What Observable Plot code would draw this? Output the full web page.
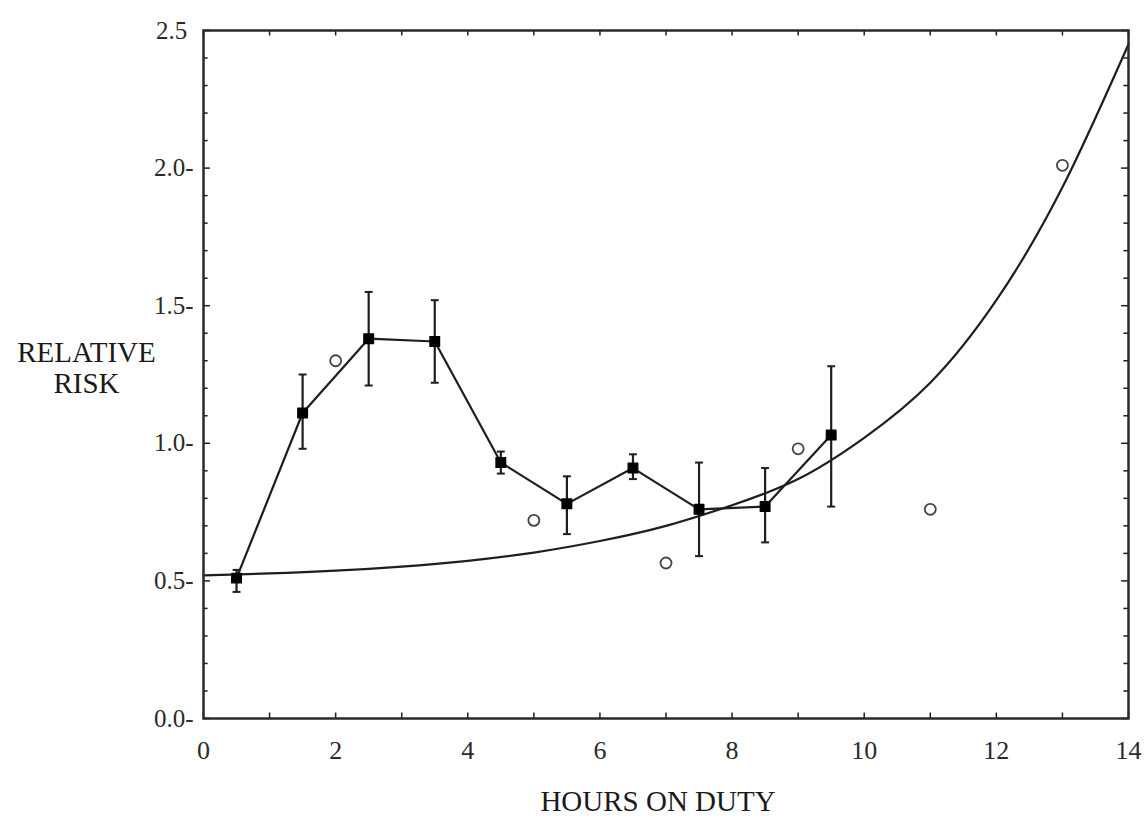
<!DOCTYPE html>
<html>
<head>
<meta charset="utf-8">
<script src="https://cdn.jsdelivr.net/npm/d3@7"></script>
<script src="https://cdn.jsdelivr.net/npm/@observablehq/plot@0.6"></script>
<style>
  html, body { margin: 0; padding: 0; background: #fff; }
  #chart { width: 1144px; height: 830px; }
  #chart svg text { font-family: 'Liberation Serif', 'DejaVu Serif', serif; }
</style>
</head>
<body>
<div id="chart"></div>
<script>
// Observed relative risk by hour on duty (filled points, with error bars)
const hours = [0.5, 1.5, 2.5, 3.5, 4.5, 5.5, 6.5, 7.5, 8.5, 9.5];
const risk  = [0.51, 1.11, 1.38, 1.37, 0.93, 0.78, 0.91, 0.76, 0.77, 1.03];
const riskLo = [0.46, 0.98, 1.21, 1.22, 0.89, 0.67, 0.87, 0.59, 0.64, 0.77];
const riskHi = [0.54, 1.25, 1.55, 1.52, 0.97, 0.88, 0.96, 0.93, 0.91, 1.28];

// Second series (open circles)
const openHours = [2, 5, 7, 9, 11, 13];
const openRisk  = [1.30, 0.72, 0.565, 0.98, 0.76, 2.01];

// Fitted curve
const curveHours = [0, 1, 2, 3, 4, 5, 6, 7, 8, 9, 10, 11, 12, 13, 14];
const curveRisk  = [0.52, 0.527, 0.537, 0.552, 0.573, 0.603, 0.645, 0.70, 0.775, 0.87, 1.02, 1.22, 1.52, 1.93, 2.45];

// Axis ticks
const xTickLabels = [0, 2, 4, 6, 8, 10, 12, 14];
const xMinorTicks = d3.range(0, 15, 1);
const yTickLabels = [0, 0.5, 1.0, 1.5, 2.0, 2.5];
const yMinorTicks = d3.range(0, 26).map(i => i / 10);

const obs = hours.map((h, i) => ({x: h, y: risk[i], lo: riskLo[i], hi: riskHi[i]}));
const opens = openHours.map((h, i) => ({x: h, y: openRisk[i]}));
const fit = curveHours.map((h, i) => ({x: h, y: curveRisk[i]}));

const ink = "#1e1e1e";
const serif = "'Liberation Serif', 'DejaVu Serif', serif";
const capHalf = 0.06;
const xTickLen = 0.02;   // in y units
const yTickLen = 0.07;   // in x units

const chart = Plot.plot({
  width: 1144,
  height: 830,
  marginLeft: 203,
  marginRight: 16,
  marginTop: 30,
  marginBottom: 112,
  style: {fontFamily: serif, fontSize: "25px", color: "#2a2a2a", background: "#fff"},
  x: {domain: [0, 14]},
  y: {domain: [0, 2.5]},
  marks: [
    // inner minor ticks, all four sides
    Plot.ruleX(xMinorTicks, {x: d => d, y1: 0, y2: xTickLen, stroke: ink, strokeWidth: 1.5}),
    Plot.ruleX(xMinorTicks, {x: d => d, y1: 2.5, y2: 2.5 - xTickLen, stroke: ink, strokeWidth: 1.5}),
    Plot.ruleY(yMinorTicks, {y: d => d, x1: 0, x2: d => (Math.round(d * 10) % 5 === 0 ? yTickLen * 1.5 : yTickLen), stroke: ink, strokeWidth: 1.5}),
    Plot.ruleY(yMinorTicks, {y: d => d, x1: 14, x2: d => 14 - (Math.round(d * 10) % 5 === 0 ? yTickLen * 1.5 : yTickLen), stroke: ink, strokeWidth: 1.5}),
    Plot.axisX(xTickLabels, {anchor: "bottom", tickSize: 0, tickPadding: 22, fontSize: 26, fontFamily: serif, label: null, tickFormat: d => String(d)}),
    Plot.axisY(yTickLabels, {anchor: "left", tickSize: 0, tickPadding: 10, fontSize: 25, fontFamily: serif, label: null,
      tickFormat: d => d === 2.5 ? "2.5 " : d.toFixed(1) + "-"}),
    // fitted curve
    Plot.line(fit, {x: "x", y: "y", curve: "natural", stroke: ink, strokeWidth: 2.2}),
    // error bars
    Plot.ruleX(obs, {x: "x", y1: "lo", y2: "hi", stroke: ink, strokeWidth: 2.2}),
    Plot.link(obs, {x1: d => d.x - capHalf, x2: d => d.x + capHalf, y1: "hi", y2: "hi", stroke: ink, strokeWidth: 2}),
    Plot.link(obs, {x1: d => d.x - capHalf, x2: d => d.x + capHalf, y1: "lo", y2: "lo", stroke: ink, strokeWidth: 2}),
    // observed line + points
    Plot.line(obs, {x: "x", y: "y", stroke: ink, strokeWidth: 2.2}),
    Plot.dot(obs, {x: "x", y: "y", symbol: "square", r: 5.5, fill: "#000", stroke: "#000", strokeWidth: 1.2, strokeLinejoin: "round"}),
    // open circles
    Plot.dot(opens, {x: "x", y: "y", r: 5.5, fill: "none", stroke: "#444", strokeWidth: 1.8}),
    // frame
    Plot.frame({stroke: "#2a2a2a", strokeWidth: 2.5}),
    // axis titles
    Plot.text(["RELATIVE\nRISK"], {frameAnchor: "left", dx: -117, dy: -7, text: d => d, textAnchor: "middle", fontSize: 29, fontFamily: serif, lineHeight: 1.07, fill: "#1a1a1a"}),
    Plot.text(["HOURS ON DUTY"], {frameAnchor: "bottom", dy: 92, dx: -8, text: d => d, textAnchor: "middle", fontSize: 29, fontFamily: serif, fill: "#1a1a1a"})
  ]
});
document.getElementById("chart").appendChild(chart);
</script>
</body>
</html>
